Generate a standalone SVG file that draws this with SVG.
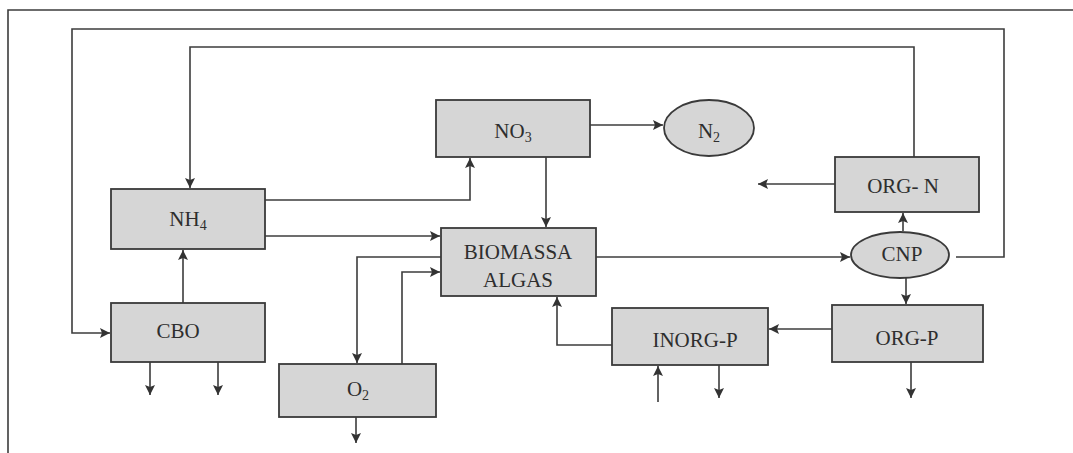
<svg xmlns="http://www.w3.org/2000/svg" width="1073" height="453" viewBox="0 0 1073 453">
<style>
.box{fill:#d6d6d6;stroke:#3a3a3a;stroke-width:1.8}
.lbl{font-family:"Liberation Serif","Times New Roman",serif;font-size:21px;fill:#2e2e2e;text-anchor:middle}
.sub{font-size:14px}
.ln{fill:none;stroke:#3c3c3c;stroke-width:1.6}
.arr{marker-end:url(#ah)}
</style>
<defs>
<marker id="ah" markerUnits="userSpaceOnUse" markerWidth="12" markerHeight="12" refX="10" refY="5" orient="auto">
<path d="M0,0 L10,5 L0,10 L2,5 z" fill="#333"/>
</marker>
</defs>
<rect width="1073" height="453" fill="#fff"/>
<g id="frame"><polyline class="ln" points="8,453 8,10 1073,10"/></g>
<g id="connectors">
<polyline class="ln arr" points="956,257 1004,257 1004,29 72,29 72,333 110,333"/>
<polyline class="ln arr" points="914,157 914,47 190,47 190,188"/>
<polyline class="ln arr" points="265,200 470,200 470,158"/>
<polyline class="ln arr" points="265,236 440,236"/>
<polyline class="ln arr" points="590,125 663,125"/>
<polyline class="ln arr" points="546,157 546,227"/>
<polyline class="ln arr" points="441,257 357,257 357,363"/>
<polyline class="ln arr" points="402,364 402,272 440,272"/>
<polyline class="ln arr" points="596,257 850,257"/>
<polyline class="ln arr" points="903,231 903,213"/>
<polyline class="ln arr" points="835,184 758,184"/>
<polyline class="ln arr" points="906,278 906,304"/>
<polyline class="ln arr" points="832,329 769,329"/>
<polyline class="ln arr" points="911,362 911,398"/>
<polyline class="ln arr" points="612,345 557,345 557,297"/>
<polyline class="ln arr" points="658,402 658,366"/>
<polyline class="ln arr" points="719,365 719,398"/>
<polyline class="ln arr" points="183,303 183,250"/>
<polyline class="ln arr" points="150,362 150,395"/>
<polyline class="ln arr" points="218,362 218,395"/>
<polyline class="ln arr" points="356,417 356,443"/>
</g>
<g id="NO3"><rect class="box" x="436" y="100" width="154" height="57"/><text class="lbl" x="513" y="138">NO<tspan class="sub" dy="4">3</tspan></text></g>
<g id="N2"><ellipse class="box" cx="709" cy="128" rx="45" ry="28"/><text class="lbl" x="709" y="138">N<tspan class="sub" dy="4">2</tspan></text></g>
<g id="NH4"><rect class="box" x="111" y="189" width="154" height="60"/><text class="lbl" x="188" y="226">NH<tspan class="sub" dy="4">4</tspan></text></g>
<g id="BIOMASSA"><rect class="box" x="441" y="228" width="155" height="68"/><text class="lbl" x="518" y="259">BIOMASSA</text><text class="lbl" x="518" y="287">ALGAS</text></g>
<g id="CNP"><ellipse class="box" cx="900" cy="255" rx="49" ry="23"/><text class="lbl" x="902" y="261">CNP</text></g>
<g id="ORG-N"><rect class="box" x="835" y="157" width="144" height="55"/><text class="lbl" x="903" y="193">ORG- N</text></g>
<g id="ORG-P"><rect class="box" x="832" y="305" width="151" height="57"/><text class="lbl" x="907" y="345">ORG-P</text></g>
<g id="INORG-P"><rect class="box" x="612" y="308" width="156" height="57"/><text class="lbl" x="695" y="347">INORG-P</text></g>
<g id="CBO"><rect class="box" x="111" y="303" width="154" height="59"/><text class="lbl" x="178" y="338">CBO</text></g>
<g id="O2"><rect class="box" x="279" y="364" width="157" height="53"/><text class="lbl" x="358" y="396">O<tspan class="sub" dy="4">2</tspan></text></g>
</svg>
